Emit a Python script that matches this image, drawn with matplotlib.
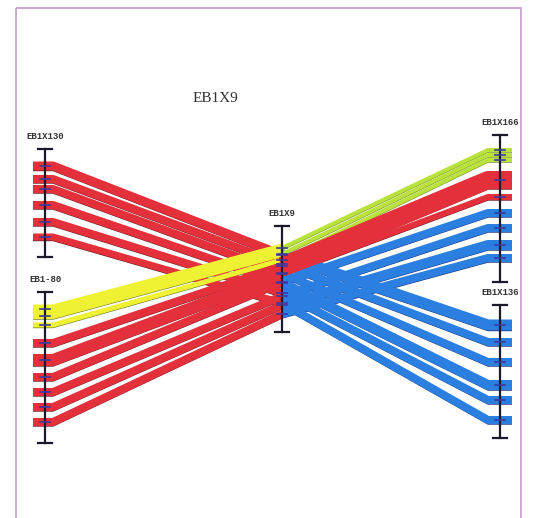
import matplotlib
matplotlib.use("Agg")
import matplotlib.pyplot as plt
from matplotlib.patches import Rectangle

# map name, x position, top, bottom
MAPS = ["EB1X130", "EB1-80", "EB1X9", "EB1X166", "EB1X136"]
map_x = [45, 45, 282, 500, 500]
map_top = [149, 292, 226, 135, 305]
map_bot = [257, 443, 332, 282, 438]

# group A: EB1X130 -> EB1X9 -> EB1X136
a_left = [166, 179, 189, 205, 222, 237]
a_mid = [255, 264, 273, 283, 293, 303]
a_right = [325, 342, 362, 385, 400, 420]
a_lcol = ["r", "r", "r", "r", "r", "r"]
a_rcol = ["b", "b", "b", "b", "b", "b"]
a_lw = [9, 8, 8, 8, 8, 7]
a_rw = [11, 8, 8, 10, 8, 8]

# group B: EB1-80 -> EB1X9 -> EB1X166
b_left = [309, 316, 325, 343, 360, 377, 392, 407, 422]
b_mid = [248, 254, 260, 266, 274, 282, 296, 305, 314]
b_right = [150, 155, 160, 180, 197, 213, 228, 245, 258]
b_lcol = ["y", "y", "y", "r", "r", "r", "r", "r", "r"]
b_rcol = ["g", "g", "g", "r", "r", "b", "b", "b", "b"]
b_lw = [9, 6, 5, 8, 12, 8, 8, 8, 8]
b_rw = [4, 4, 4, 18, 6, 8, 8, 10, 8]

COLORS = {"r": "#e3303a", "b": "#2a7fe0", "y": "#eef232", "g": "#b9e23a"}
EDGES = {"r": "#6a1a28", "b": "#1c2f78", "y": "#6f7a2a", "g": "#6f8a2a"}

PX = 72 / 100  # pixel -> point


def band(ax, x0, y0, xm, ym, x1, y1, col_l, col_r, w_l, w_r):
    # left half: stub at the side map, then slope to the middle map
    lx = [x0 - 12, x0 + 8, xm]
    ly = [y0, y0, ym]
    rx = [xm, x1 - 12, x1 + 12]
    ry = [ym, y1, y1]
    ax.plot(lx, [v + w_l / 2 for v in ly], color=EDGES[col_l], lw=1.0,
            solid_capstyle="butt", zorder=2)
    ax.plot(lx, ly, color=COLORS[col_l], lw=w_l * PX,
            solid_capstyle="butt", solid_joinstyle="round", zorder=3)
    ax.plot(rx, [v + w_r / 2 for v in ry], color=EDGES[col_r], lw=1.0,
            solid_capstyle="butt", zorder=2)
    ax.plot(rx, ry, color=COLORS[col_r], lw=w_r * PX,
            solid_capstyle="butt", solid_joinstyle="round", zorder=3)


def main() -> None:
    fig = plt.figure(figsize=(5.33, 5.18), dpi=100)
    ax = fig.add_axes([0, 0, 1, 1])
    ax.set_xlim(0, 533)
    ax.set_ylim(518, 0)
    ax.axis("off")

    ax.add_patch(Rectangle((16, 7.5), 505, 530, fill=False,
                           edgecolor="#c49ac6", lw=1.2, zorder=1))

    for i in range(len(a_left)):
        band(ax, map_x[0], a_left[i], map_x[2], a_mid[i], map_x[4],
             a_right[i], a_lcol[i], a_rcol[i], a_lw[i], a_rw[i])
    for i in range(len(b_left)):
        band(ax, map_x[1], b_left[i], map_x[2], b_mid[i], map_x[3],
             b_right[i], b_lcol[i], b_rcol[i], b_lw[i], b_rw[i])

    # map axes: vertical bar with caps and marker ticks
    ticks = [a_left, b_left, a_mid + b_mid, b_right, a_right]
    for i, name in enumerate(MAPS):
        x = map_x[i]
        ax.plot([x, x], [map_top[i], map_bot[i]], color="#1a1a2a",
                lw=1.6, zorder=5)
        for y in (map_top[i], map_bot[i]):
            ax.plot([x - 7, x + 7], [y, y], color="#1a1a2a", lw=1.6,
                    zorder=5)
        for y in ticks[i]:
            ax.plot([x - 5, x + 5], [y, y], color="#3a3aa0", lw=1.2,
                    zorder=6)
        ax.text(x, map_top[i] - 8, name, ha="center", va="bottom",
                fontsize=6.5, family="Liberation Mono", color="#333333",
                weight="bold", zorder=7)

    ax.text(215, 98, "EB1X9", ha="center", va="center", fontsize=11,
            family="Liberation Serif", color="#333333")

    fig.savefig("out.png", dpi=100)
    plt.close(fig)


if __name__ == "__main__":
    main()
